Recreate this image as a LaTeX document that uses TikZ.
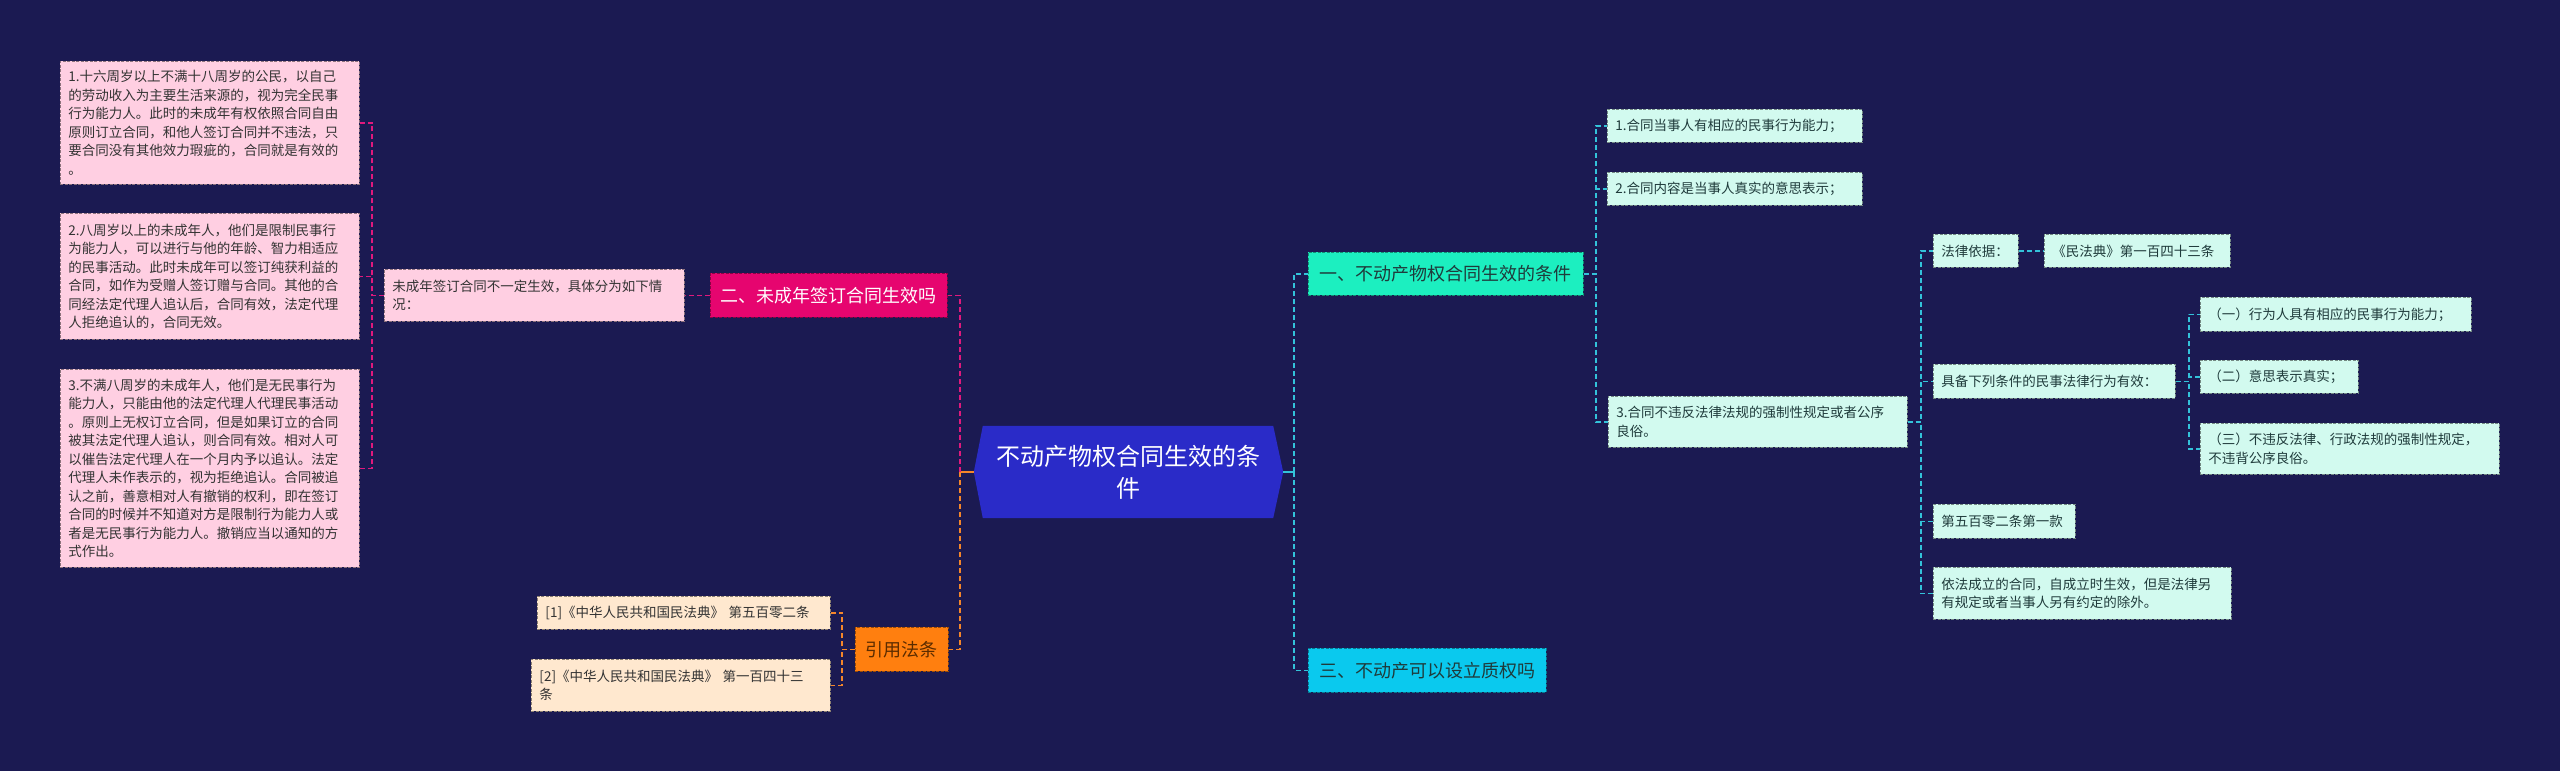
\documentclass[tikz,border=0pt]{standalone}
\usepackage{fontspec}
\setmainfont{Noto Sans CJK SC}
\usetikzlibrary{backgrounds}
\definecolor{bgc}{HTML}{1B1A52}
\definecolor{hexc}{HTML}{2A2BC8}
\definecolor{pinkf}{HTML}{FFCFE2}
\definecolor{magf}{HTML}{E6056F}
\definecolor{orgf}{HTML}{FF7F0F}
\definecolor{peachf}{HTML}{FFE8CF}
\definecolor{aquaf}{HTML}{1CEFC0}
\definecolor{mintf}{HTML}{D2FAEF}
\definecolor{cyanf}{HTML}{0AC9EE}
\definecolor{magl}{HTML}{E0197D}
\definecolor{orgl}{HTML}{F5862A}
\definecolor{cyanl}{HTML}{33C3DA}
\definecolor{txtd}{HTML}{333333}
\definecolor{txtt}{HTML}{1F3B3B}
\definecolor{txto}{HTML}{5B2C00}
\begin{document}
\begin{tikzpicture}[x=1pt,y=-1pt,
  bx/.style={anchor=north west, inner xsep=8pt, inner ysep=3pt, align=left,
    line width=0.9pt, dash pattern=on 3pt off 1.5pt,
    font=\fontsize{13.5}{18.5}\selectfont},
  pk/.style={bx, fill=pinkf, draw=pinkf!55!black, text=txtd},
  pc/.style={bx, fill=peachf, draw=peachf!55!black, text=txtd},
  mt/.style={bx, fill=mintf, draw=mintf!55!black, text=txtt},
  br/.style={anchor=north west, inner xsep=8pt, align=center,
    line width=0.9pt, dash pattern=on 3pt off 1.5pt,
    font=\fontsize{18}{22}\selectfont},
  lk/.style={line width=1.8pt, dash pattern=on 5pt off 3pt},
  ml/.style={lk, draw=magl},
  ol/.style={lk, draw=orgl},
  cl/.style={lk, draw=cyanl}
]
\useasboundingbox (0,0) rectangle (2560,771);

% centre
\node[text=white, font=\fontsize{24}{32}\selectfont, align=center,
  minimum width=309pt, minimum height=92pt, inner sep=0pt] (center) at (1128.5,472)
  {不动产物权合同生效的条\\件};
\begin{scope}[on background layer]
  \fill[bgc] (0,0) rectangle (2560,771);
  \fill[hexc] (center.west) -- ([xshift=9pt]center.north west)
    -- ([xshift=-10pt]center.north east) -- (center.east)
    -- ([xshift=-10pt]center.south east) -- ([xshift=9pt]center.south west) -- cycle;
\end{scope}

% left branch: minors
\node[br, fill=magf, draw=magf!60!black, text=white, minimum width=237pt, minimum height=44pt] (n2) at (710,273) {二、未成年签订合同生效吗};
\node[pk, minimum width=300pt, text width=284pt, minimum height=52pt] (sub) at (384,269)
  {未成年签订合同不一定生效，具体分为如下情\\况：};
\node[pk, minimum width=299pt, text width=283pt, minimum height=123pt] (p1) at (60,61)
  {1.十六周岁以上不满十八周岁的公民，以自己\\的劳动收入为主要生活来源的，视为完全民事\\行为能力人。此时的未成年有权依照合同自由\\原则订立合同，和他人签订合同并不违法，只\\要合同没有其他效力瑕疵的，合同就是有效的\\。};
\node[pk, minimum width=299pt, text width=283pt, minimum height=126pt] (p2) at (60,213)
  {2.八周岁以上的未成年人，他们是限制民事行\\为能力人，可以进行与他的年龄、智力相适应\\的民事活动。此时未成年可以签订纯获利益的\\合同，如作为受赠人签订赠与合同。其他的合\\同经法定代理人追认后，合同有效，法定代理\\人拒绝追认的，合同无效。};
\node[pk, minimum width=299pt, text width=283pt, minimum height=198pt] (p3) at (60,369)
  {3.不满八周岁的未成年人，他们是无民事行为\\能力人，只能由他的法定代理人代理民事活动\\。原则上无权订立合同，但是如果订立的合同\\被其法定代理人追认，则合同有效。相对人可\\以催告法定代理人在一个月内予以追认。法定\\代理人未作表示的，视为拒绝追认。合同被追\\认之前，善意相对人有撤销的权利，即在签订\\合同的时候并不知道对方是限制行为能力人或\\者是无民事行为能力人。撤销应当以通知的方\\式作出。};

% left branch: citations
\node[br, fill=orgf, draw=orgf!60!black, text=txto, minimum width=93pt, minimum height=44pt] (cite) at (855,627) {引用法条};
\node[pc, minimum width=293pt, text width=277pt, minimum height=33pt] (c1) at (537,596)
  {[1]《中华人民共和国民法典》~第五百零二条};
\node[pc, minimum width=299pt, text width=283pt, minimum height=52pt] (c2) at (531,659)
  {[2]《中华人民共和国民法典》~第一百四十三\\条};

% right branch
\node[br, fill=aquaf, draw=aquaf!60!black, text=txtt, minimum width=275pt, minimum height=43pt] (n1) at (1308,252) {一、不动产物权合同生效的条件};
\node[br, fill=cyanf, draw=cyanf!60!black, text=txtt, minimum width=238pt, minimum height=44pt] (n3) at (1308,648) {三、不动产可以设立质权吗};
\node[mt, minimum width=255pt, text width=239pt, minimum height=33pt] (r1) at (1607,109) {1.合同当事人有相应的民事行为能力；};
\node[mt, minimum width=255pt, text width=239pt, minimum height=33pt] (r2) at (1607,172) {2.合同内容是当事人真实的意思表示；};
\node[mt, minimum width=299pt, text width=283pt, minimum height=51pt] (r3) at (1608,396) {3.合同不违反法律法规的强制性规定或者公序\\良俗。};
\node[mt, minimum width=85pt, text width=69pt, minimum height=33pt] (law) at (1933,234) {法律依据：};
\node[mt, minimum width=186pt, text width=170pt, minimum height=33pt] (law2) at (2044,234) {《民法典》第一百四十三条};
\node[mt, minimum width=242pt, text width=226pt, minimum height=34pt] (cond) at (1933,364) {具备下列条件的民事法律行为有效：};
\node[mt, minimum width=271pt, text width=255pt, minimum height=34pt] (s1) at (2200,297) {（一）行为人具有相应的民事行为能力；};
\node[mt, minimum width=158pt, text width=142pt, minimum height=33pt] (s2) at (2200,360) {（二）意思表示真实；};
\node[mt, minimum width=299pt, text width=283pt, minimum height=51pt] (s3) at (2200,423) {（三）不违反法律、行政法规的强制性规定，\\不违背公序良俗。};
\node[mt, minimum width=142pt, text width=126pt, minimum height=34pt] (a502) at (1933,504) {第五百零二条第一款};
\node[mt, minimum width=298pt, text width=282pt, minimum height=52pt] (dep) at (1933,567) {依法成立的合同，自成立时生效，但是法律另\\有规定或者当事人另有约定的除外。};

% connectors left
\draw[orgl, line width=1.8pt] (center.west) -- ++(-14,0);
\draw[ml] (center.west) ++(-14,0) |- (n2.east);
\draw[ol] (center.west) ++(-14,0) |- (cite.east);
\draw[ml] (n2.west) -- (sub.east);
\draw[ml] (sub.west) -- ++(-12,0) |- (p1.east);
\draw[ml] (sub.west) -- ++(-12,0) |- (p2.east);
\draw[ml] (sub.west) -- ++(-12,0) |- (p3.east);
\draw[ol] (cite.west) -- ++(-13,0) |- (c1.east);
\draw[ol] (cite.west) -- ++(-13,0) |- (c2.east);

% connectors right
\draw[cyanl, line width=1.8pt] (center.east) -- ++(11,0);
\draw[cl] (center.east) ++(11,0) |- (n1.west);
\draw[cl] (center.east) ++(11,0) |- (n3.west);
\draw[cl] (n1.east) -- ++(12,0) |- (r1.west);
\draw[cl] (n1.east) -- ++(12,0) |- (r2.west);
\draw[cl] (n1.east) -- ++(12,0) |- (r3.west);
\draw[cl] (r3.east) -- ++(13,0) |- (law.west);
\draw[cl] (r3.east) -- ++(13,0) |- (cond.west);
\draw[cl] (r3.east) -- ++(13,0) |- (a502.west);
\draw[cl] (r3.east) -- ++(13,0) |- (dep.west);
\draw[cl] (law.east) -- (law2.west);
\draw[cl] (cond.east) -- ++(13,0) |- (s1.west);
\draw[cl] (cond.east) -- ++(13,0) |- (s2.west);
\draw[cl] (cond.east) -- ++(13,0) |- (s3.west);
\end{tikzpicture}
\end{document}
